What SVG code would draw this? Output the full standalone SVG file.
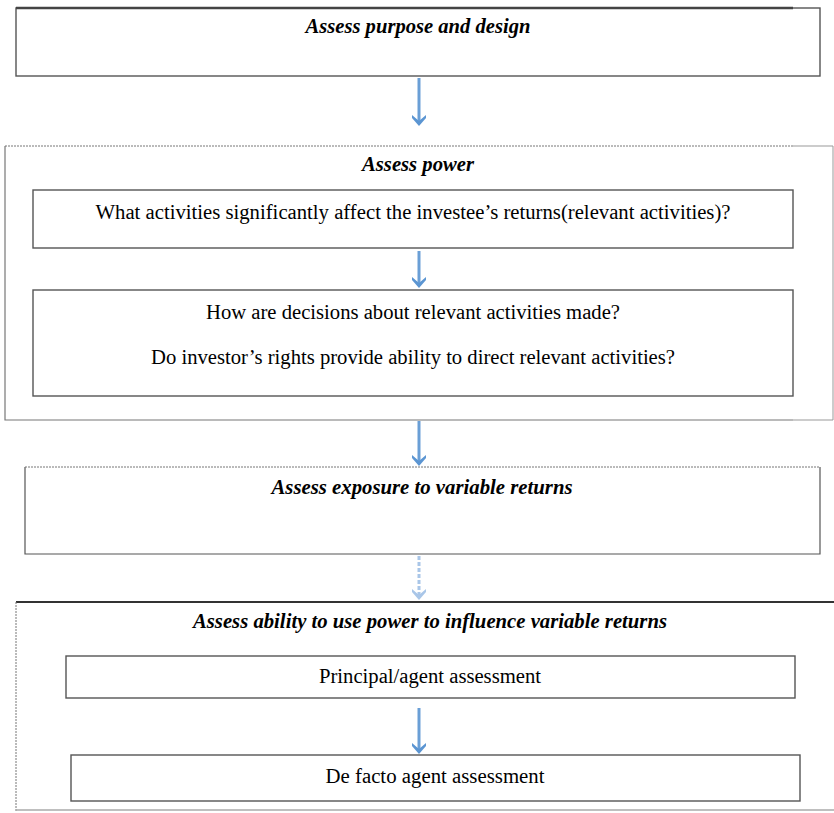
<svg xmlns="http://www.w3.org/2000/svg" width="834" height="813" viewBox="0 0 834 813">
<defs>
<style>
.box{fill:#fff;stroke:#555;stroke-width:1.4}
.thin{fill:none;stroke:#777;stroke-width:1;stroke-dasharray:2 1}
.t{font-family:"Liberation Serif","Times New Roman",serif;font-size:20px;fill:#000;text-anchor:middle}
.h{font-weight:bold;font-style:italic}
.arr{stroke:#6a9fd6;stroke-width:3;fill:none}
.arrl{stroke:#a9c6e8;stroke-width:3;fill:none;stroke-dasharray:4 2}
</style>
<marker id="ah" viewBox="0 0 14 12" refX="7" refY="10" markerWidth="14" markerHeight="12" markerUnits="userSpaceOnUse" orient="0">
<path d="M0,1 L7,7 L14,1 L14,4 L7,12 L0,4 Z" fill="#5b95d2"/>
</marker>
<marker id="ahl" viewBox="0 0 14 12" refX="7" refY="10" markerWidth="14" markerHeight="12" markerUnits="userSpaceOnUse" orient="0">
<path d="M0,1 L7,7 L14,1 L14,4 L7,12 L0,4 Z" fill="#a9c6e8"/>
</marker>
</defs>
<rect width="834" height="813" fill="#fff"/>

<g id="purpose">
<rect class="box" x="16" y="8" width="804" height="68"/>
<line x1="16" y1="8" x2="793" y2="8" stroke="#444" stroke-width="2.5"/>
<text class="t h" x="418" y="33" textLength="225" lengthAdjust="spacingAndGlyphs">Assess purpose and design</text>
</g>

<g id="power">
<path d="M5,146 V420 H793" fill="none" stroke="#777" stroke-width="1.2"/>
<line x1="5" y1="146" x2="793" y2="146" class="thin"/>
<path d="M793,146 H833 V420 H793" fill="none" stroke="#999" stroke-width="1"/>
<text class="t h" x="418" y="171" textLength="112" lengthAdjust="spacingAndGlyphs">Assess power</text>
</g>

<g id="relevant">
<rect class="box" x="33" y="190" width="760" height="58"/>
<text class="t" x="413" y="219" textLength="635" lengthAdjust="spacingAndGlyphs">What activities significantly affect the investee’s returns(relevant activities)?</text>
</g>

<g id="decisions">
<rect class="box" x="33" y="290" width="760" height="106" stroke-width="1.8"/>
<text class="t" x="413" y="319" textLength="414" lengthAdjust="spacingAndGlyphs">How are decisions about relevant activities made?</text>
<text class="t" x="413" y="364" textLength="524" lengthAdjust="spacingAndGlyphs">Do investor’s rights provide ability to direct relevant activities?</text>
</g>

<g id="exposure">
<path d="M25,467 V554 H820 V467" fill="#fff" stroke="#555" stroke-width="1.2"/>
<line x1="25" y1="467" x2="820" y2="467" class="thin"/>
<text class="t h" x="422" y="494" textLength="301" lengthAdjust="spacingAndGlyphs">Assess exposure to variable returns</text>
</g>

<g id="ability">
<line x1="16" y1="602" x2="834" y2="602" stroke="#333" stroke-width="1.8"/>
<line x1="16" y1="602" x2="16" y2="811" class="thin"/>
<line x1="16" y1="810" x2="834" y2="810" stroke="#aaa" stroke-width="1.5"/>
<text class="t h" x="430" y="628" textLength="474" lengthAdjust="spacingAndGlyphs">Assess ability to use power to influence variable returns</text>
</g>

<g id="principal">
<rect class="box" x="66" y="656" width="729" height="42"/>
<text class="t" x="430" y="683" textLength="222" lengthAdjust="spacingAndGlyphs">Principal/agent assessment</text>
</g>

<g id="defacto">
<rect class="box" x="71" y="755" width="729" height="46"/>
<text class="t" x="435" y="783" textLength="219" lengthAdjust="spacingAndGlyphs">De facto agent assessment</text>
</g>

<g id="connectors">
<line class="arr" x1="419" y1="78" x2="419" y2="124" marker-end="url(#ah)"/>
<line class="arr" x1="419" y1="251" x2="419" y2="286" marker-end="url(#ah)"/>
<line class="arr" x1="419" y1="421" x2="419" y2="464" marker-end="url(#ah)"/>
<line class="arrl" x1="419" y1="556" x2="419" y2="598" marker-end="url(#ahl)"/>
<line class="arr" x1="419" y1="708" x2="419" y2="752" marker-end="url(#ah)"/>
</g>
</svg>
